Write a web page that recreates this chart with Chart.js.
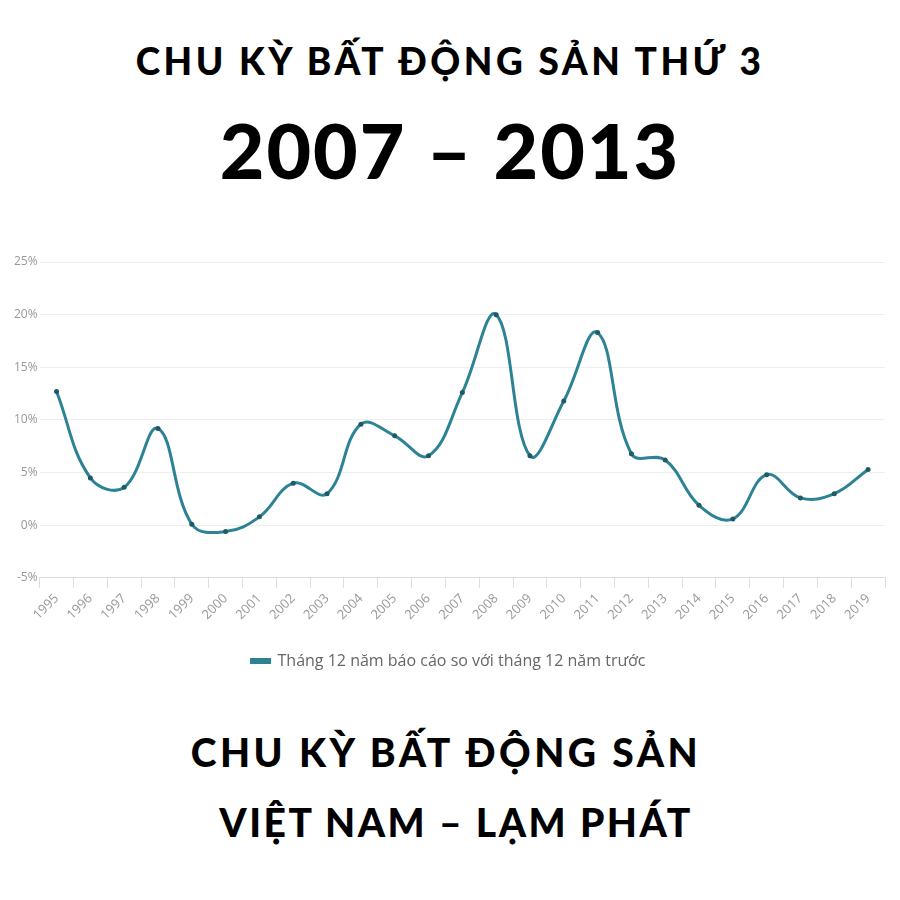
<!DOCTYPE html>
<html>
<head>
<meta charset="utf-8">
<script src="https://cdn.jsdelivr.net/npm/chart.js@4"></script>
<style>
  html, body { margin: 0; padding: 0; background: #fff; }
  body { width: 900px; height: 900px; position: relative; overflow: hidden; }
  .t { position: absolute; left: 0; width: 900px; text-align: center; color: #000;
       font-family: Lato, "DejaVu Sans", sans-serif; font-weight: 900; white-space: nowrap; line-height: 1.2; }
  #t1 { top: 39px; font-size: 37px; letter-spacing: 3.5px; }
  #t2 { top: 103px; font-size: 77px; letter-spacing: 2px; }
  #t3 { top: 729px; font-size: 39px; letter-spacing: 3.5px; left: -4px; }
  #t4 { top: 799px; font-size: 39px; letter-spacing: 2.5px; left: 6px; }
  #wrap { position: absolute; left: 0; top: 240px; width: 900px; height: 439px; }
</style>
</head>
<body>
<div class="t" id="t1">CHU KỲ BẤT ĐỘNG SẢN THỨ 3</div>
<div class="t" id="t2">2007 – 2013</div>
<div id="wrap"><canvas id="graph1"></canvas></div>
<div class="t" id="t3">CHU KỲ BẤT ĐỘNG SẢN</div>
<div class="t" id="t4">VIỆT NAM – LẠM PHÁT</div>

<script>
// Years on the x axis
const years = ['1995', '1996', '1997', '1998', '1999', '2000', '2001', '2002', '2003',
    '2004', '2005', '2006', '2007', '2008', '2009', '2010', '2011', '2012', '2013',
    '2014', '2015', '2016', '2017', '2018', '2019'];

// CPI Dec vs Dec of previous year (%)
const inflation = [12.7, 4.5, 3.6, 9.2, 0.1, -0.6, 0.8, 4.0, 3.0,
    9.6, 8.5, 6.6, 12.6, 20.0, 6.6, 11.8, 18.3, 6.8, 6.2,
    1.9, 0.6, 4.8, 2.6, 3.0, 5.3];

const seriesLabel = 'Tháng 12 năm báo cáo so với tháng 12 năm trước';

function createChart(){
    const ctx = document.getElementById('graph1');
    new Chart(ctx, {
        type: 'line',
        data: {
            labels: years,
            datasets: [{
                label: seriesLabel,
                data: inflation,
                fill: false,
                borderColor: '#2d8395',
                backgroundColor: '#1f5a66',
                borderWidth: 3,
                tension: 0.4,
                pointRadius: 2.5,
                pointBorderWidth: 0,
                pointBackgroundColor: '#1f5a66'
            }]
        },
        options: {
            responsive: true,
            maintainAspectRatio: false,
            animation: false,
            layout: { padding: { left: 12, right: 15, top: 22, bottom: 0 } },
            scales: {
                x: {
                    offset: true,
                    grid: { display: true, drawOnChartArea: false, color: '#ddd', tickLength: 10, offset: true },
                    border: { color: '#ddd' },
                    ticks: {
                        maxRotation: 45, minRotation: 45,
                        color: '#999',
                        font: { family: 'Open Sans', size: 13 }
                    }
                },
                y: {
                    min: -5, max: 25,
                    ticks: {
                        stepSize: 5,
                        color: '#999',
                        padding: 2,
                        font: { family: 'Open Sans', size: 12 },
                        callback: v => v + '%'
                    },
                    grid: { color: '#eee', drawTicks: false },
                    border: { display: false }
                }
            },
            plugins: {
                legend: {
                    position: 'bottom',
                    labels: {
                        color: '#666',
                        font: { family: 'Open Sans', size: 16 },
                        boxWidth: 18, boxHeight: 3,
                        padding: 27
                    }
                },
                tooltip: { enabled: false }
            }
        }
    });
}

createChart();
</script>
</body>
</html>
